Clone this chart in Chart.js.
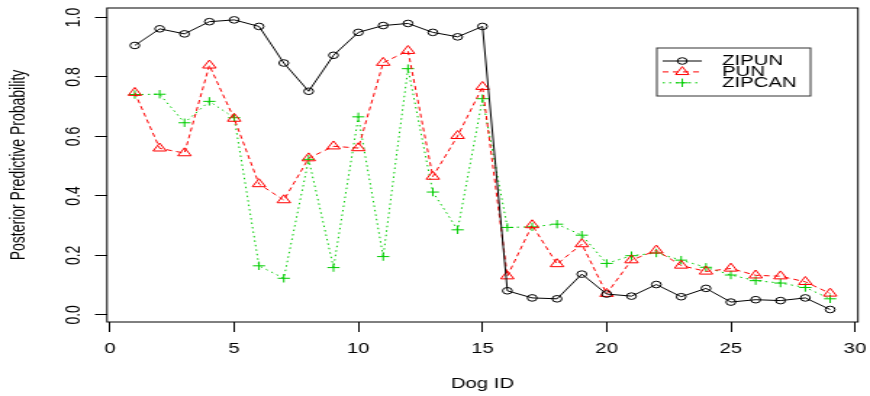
<!DOCTYPE html>
<html>
<head>
<meta charset="utf-8">
<script src="https://cdn.jsdelivr.net/npm/chart.js@4/dist/chart.umd.min.js"></script>
<style>
  html, body { margin: 0; padding: 0; background: #fff; overflow: hidden; }
  /* the original figure is stretched sideways, so draw narrow and widen */
  #wrap { width: 600px; height: 396px; transform: scaleX(1.45); transform-origin: 0 0; }
</style>
</head>
<body>
<div id="wrap"><canvas id="graph"></canvas></div>
<script>
const dogIds = [1, 2, 3, 4, 5, 6, 7, 8, 9, 10, 11, 12, 13, 14, 15, 16, 17, 18, 19, 20, 21, 22, 23, 24, 25, 26, 27, 28, 29];
const zipun = [0.906, 0.962, 0.945, 0.986, 0.992, 0.970, 0.847, 0.752, 0.873, 0.950, 0.973, 0.980, 0.950, 0.935, 0.970,
  0.081, 0.057, 0.054, 0.137, 0.070, 0.063, 0.102, 0.061, 0.089, 0.043, 0.051, 0.048, 0.057, 0.018];
const pun = [0.747, 0.560, 0.544, 0.839, 0.660, 0.440, 0.386, 0.527, 0.567, 0.561, 0.848, 0.888, 0.465, 0.602, 0.767,
  0.130, 0.302, 0.171, 0.238, 0.071, 0.184, 0.217, 0.166, 0.146, 0.156, 0.133, 0.130, 0.111, 0.072];
const zipcan = [0.741, 0.742, 0.646, 0.718, 0.663, 0.165, 0.123, 0.523, 0.159, 0.666, 0.196, 0.828, 0.413, 0.286, 0.727,
  0.294, 0.296, 0.305, 0.268, 0.173, 0.199, 0.208, 0.184, 0.160, 0.134, 0.115, 0.107, 0.092, 0.054];
const seriesNames = ['ZIPUN', 'PUN', 'ZIPCAN'];
const xTicks = [0, 5, 10, 15, 20, 25, 30];
const yTicks = [0, 0.2, 0.4, 0.6, 0.8, 1.0];
const yTickLabels = ['0.0', '0.2', '0.4', '0.6', '0.8', '1.0'];

const FONT = '"Liberation Sans", Arial, sans-serif';
Chart.defaults.font.family = FONT;
Chart.defaults.font.size = 14;
Chart.defaults.color = '#000';

const toPoints = vals => vals.map((v, i) => ({ x: dogIds[i], y: v }));

function marker(ctx, style, x, y, r) {
  ctx.beginPath();
  if (style === 'circle') {
    ctx.arc(x, y, r, 0, Math.PI * 2);
  } else if (style === 'triangle') {
    for (let k = 0; k < 3; k++) {
      const a = k * 2 * Math.PI / 3;
      const px = x + Math.sin(a) * r, py = y - Math.cos(a) * r;
      k ? ctx.lineTo(px, py) : ctx.moveTo(px, py);
    }
    ctx.closePath();
  } else {
    ctx.moveTo(x - r, y); ctx.lineTo(x + r, y);
    ctx.moveTo(x, y - r); ctx.lineTo(x, y + r);
  }
  ctx.stroke();
}

// box round the plot region, as R draws it
const boxPlugin = {
  id: 'box',
  beforeDatasetsDraw(chart) {
    const { ctx, chartArea: a } = chart;
    ctx.save();
    ctx.strokeStyle = '#000';
    ctx.lineWidth = 1;
    ctx.strokeRect(a.left, a.top, a.right - a.left, a.bottom - a.top);
    ctx.restore();
  }
};

// tick labels drawn by hand so they don't push the plot area around
const tickLabelPlugin = {
  id: 'ticklabels',
  afterDraw(chart) {
    const { ctx, chartArea: a, scales } = chart;
    ctx.save();
    ctx.fillStyle = '#000';
    ctx.font = '14px ' + FONT;
    ctx.textAlign = 'center';
    ctx.textBaseline = 'middle';
    xTicks.forEach(v => {
      ctx.fillText(String(v), scales.x.getPixelForValue(v), a.bottom + 27.5);
    });
    yTicks.forEach((v, i) => {
      ctx.save();
      ctx.translate(a.left - 23, scales.y.getPixelForValue(v));
      ctx.rotate(-Math.PI / 2);
      ctx.fillText(yTickLabels[i], 0, 0);
      ctx.restore();
    });
    ctx.restore();
  }
};

// legend inside the plot, top right
const legendPlugin = {
  id: 'rlegend',
  afterDatasetsDraw(chart) {
    const ctx = chart.ctx;
    const bx = 453, by = 48, bw = 106, bh = 48, rowH = 10.9;
    ctx.save();
    ctx.fillStyle = '#fff';
    ctx.fillRect(bx, by, bw, bh);
    ctx.strokeStyle = '#333';
    ctx.lineWidth = 1;
    ctx.strokeRect(bx, by, bw, bh);
    chart.data.datasets.forEach((ds, i) => {
      const y = by + 13 + i * rowH;
      ctx.strokeStyle = ds.borderColor;
      ctx.lineWidth = 1;
      ctx.setLineDash(ds.borderDash || []);
      ctx.beginPath();
      ctx.moveTo(bx + 4, y);
      ctx.lineTo(bx + 31, y);
      ctx.stroke();
      ctx.setLineDash([]);
      marker(ctx, ds.pointStyle, bx + 17.5, y, ds.pointRadius);
      ctx.fillStyle = '#000';
      ctx.font = '14px ' + FONT;
      ctx.textBaseline = 'middle';
      ctx.textAlign = 'left';
      ctx.fillText(seriesNames[i], bx + 45, y + 0.5);
    });
    ctx.restore();
  }
};

new Chart(document.getElementById('graph'), {
  type: 'line',
  data: {
    datasets: [
      {
        label: seriesNames[0], data: toPoints(zipun),
        borderColor: '#000', borderWidth: 1,
        pointStyle: 'circle', pointRadius: 3.3, pointBorderWidth: 1,
        pointBorderColor: '#000', pointBackgroundColor: 'rgba(0,0,0,0)'
      },
      {
        label: seriesNames[1], data: toPoints(pun),
        borderColor: '#ff0000', borderWidth: 1, borderDash: [4, 3],
        pointStyle: 'triangle', pointRadius: 5.3, pointBorderWidth: 1,
        pointBorderColor: '#ff0000', pointBackgroundColor: 'rgba(0,0,0,0)'
      },
      {
        label: seriesNames[2], data: toPoints(zipcan),
        borderColor: '#00cd00', borderWidth: 1, borderDash: [1.5, 3],
        pointStyle: 'cross', pointRadius: 4.2, pointBorderWidth: 1,
        pointBorderColor: '#00cd00', pointBackgroundColor: 'rgba(0,0,0,0)'
      }
    ]
  },
  options: {
    responsive: true,
    maintainAspectRatio: false,
    animation: false,
    events: [],
    layout: { autoPadding: false, padding: { left: 0, right: 8.3, top: 8, bottom: 0 } },
    plugins: { legend: { display: false }, tooltip: { enabled: false } },
    scales: {
      x: {
        type: 'linear', position: 'bottom', min: -0.12, max: 30.12,
        afterBuildTicks: s => { s.ticks = xTicks.map(v => ({ value: v })); },
        afterFit: s => { s.height = 74; },
        grid: { drawOnChartArea: false, drawTicks: true, tickLength: 10, tickColor: '#000', tickWidth: 1 },
        border: { display: false },
        ticks: { display: false },
        title: { display: true, text: 'Dog ID', font: { size: 14 }, padding: { top: 0, bottom: 3 } }
      },
      y: {
        type: 'linear', min: -0.024, max: 1.032,
        afterBuildTicks: s => { s.ticks = yTicks.map(v => ({ value: v })); },
        afterFit: s => { s.width = 73.8; },
        grid: { drawOnChartArea: false, drawTicks: true, tickLength: 8.3, tickColor: '#000', tickWidth: 1 },
        border: { display: false },
        ticks: { display: false },
        title: { display: true, text: 'Posterior Predictive Probability', font: { size: 14 }, padding: { top: 5, bottom: 0 } }
      }
    }
  },
  plugins: [boxPlugin, tickLabelPlugin, legendPlugin]
});
</script>
</body>
</html>
